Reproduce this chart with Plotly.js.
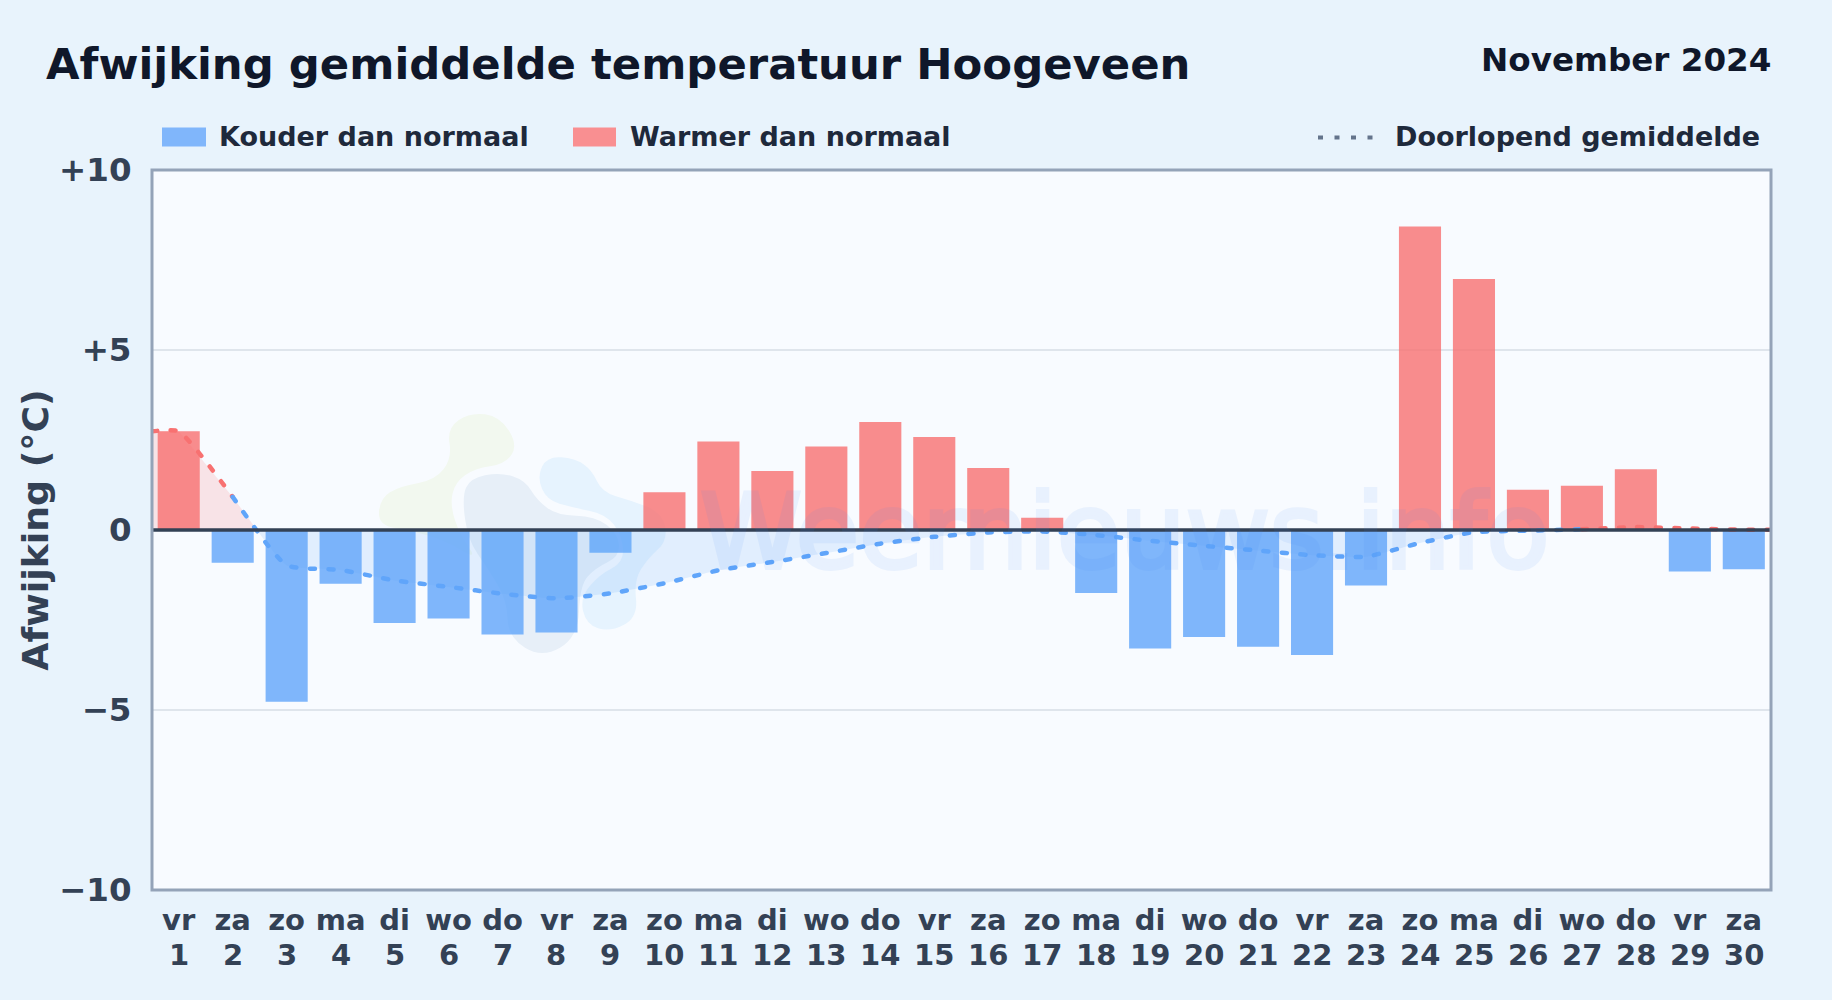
<!DOCTYPE html>
<html>
<head>
<meta charset="utf-8">
<script src="https://cdn.plot.ly/plotly-3.0.1.min.js"></script>
<style>
html,body{margin:0;padding:0;background:#e8f3fc;}
#chart{width:1832px;height:1000px;}
.scatterlayer .js-line{stroke-linecap:round;}
.annotation[data-index="0"] text{stroke:#3b82f6;stroke-width:4px;}
</style>
</head>
<body>
<div id="chart"></div>
<script>
const days = [1,2,3,4,5,6,7,8,9,10,11,12,13,14,15,16,17,18,19,20,21,22,23,24,25,26,27,28,29,30];
const weekdays = ['vr','za','zo','ma','di','wo','do','vr','za','zo','ma','di','wo','do','vr','za','zo','ma','di','wo','do','vr','za','zo','ma','di','wo','do','vr','za'];
const anomaly = [2.74,-0.91,-4.77,-1.49,-2.58,-2.46,-2.90,-2.85,-0.63,1.05,2.46,1.64,2.32,3.00,2.58,1.72,0.34,-1.75,-3.29,-2.97,-3.24,-3.47,-1.54,8.43,6.97,1.12,1.23,1.69,-1.15,-1.09];
const runningMean = [2.74,0.92,-0.98,-1.11,-1.40,-1.58,-1.77,-1.90,-1.76,-1.48,-1.12,-0.89,-0.64,-0.38,-0.19,-0.07,-0.04,-0.14,-0.30,-0.44,-0.57,-0.70,-0.74,-0.36,-0.06,-0.02,0.02,0.08,0.04,0.01];
const yTickVals = [10,5,0,-5,-10];
const yTickText = ['+10','+5','0','\u22125','\u221210'];
const legendCold = 'Kouder dan normaal';
const legendWarm = 'Warmer dan normaal';
const legendMean = 'Doorlopend gemiddelde';
const titleText = 'Afwijking gemiddelde temperatuur Hoogeveen';
const periodText = 'November 2024';
const yTitle = 'Afwijking (\u00b0C)';
const watermark = 'Weernieuws.info';

const FONT = '"DejaVu Sans", sans-serif';
const BLUE = '#60a5fa', RED = '#f87171';
const W = 1832, H = 1000;
const M = {l:152, r:61, t:169.5, b:110};
const PW = W - M.l - M.r, PH = H - M.t - M.b;
const px = x => (x - M.l) / PW;
const py = y => (H - M.b - y) / PH;

function blob(points, color) {
  const p = points.map(([x,y]) => [px(x), py(y)]);
  const n = p.length;
  const mid = (a,b) => [(a[0]+b[0])/2, (a[1]+b[1])/2];
  const s = mid(p[n-1], p[0]);
  let d = `M ${s[0]} ${s[1]}`;
  for (let i=0;i<n;i++) {
    const m = mid(p[i], p[(i+1)%n]);
    d += ` Q ${p[i][0]} ${p[i][1]} ${m[0]} ${m[1]}`;
  }
  return {type:'path', xref:'paper', yref:'paper', path:d+' Z', fillcolor:color, line:{width:0}, layer:'below'};
}
const blobGreen = [[378,525],[380,498],[400,486],[435,480],[452,458],[447,428],[470,412],[500,416],[518,445],[505,464],[475,468],[455,482],[450,505],[460,535],[478,560],[445,540],[410,530]];
const blobGrey = [[462,497],[470,478],[500,472],[525,480],[537,500],[557,515],[595,516],[618,533],[620,556],[595,568],[580,585],[578,637],[542,658],[508,637],[507,600],[487,567],[468,540]];
const blobBlue = [[537,477],[547,456],[575,458],[592,470],[602,492],[630,500],[662,512],[668,540],[648,558],[634,580],[638,617],[610,632],[586,624],[580,597],[600,574],[624,562],[622,535],[606,514],[572,507],[547,500]];

const xStart = 0.505, xEnd = 30.504;
const cross1 = 2.45, cross2 = 26.5;
const d0 = days.slice(0,2), m0 = runningMean.slice(0,2);
const dC = days.slice(2,26), mC = runningMean.slice(2,26);
const meanLine = color => ({color,width:4.5,dash:'5px,13.5px',shape:'spline',smoothing:0.5});

const data = [
  {type:'scatter', mode:'none', x:[xStart,...d0,cross1], y:[runningMean[0],...m0,0], fill:'tozeroy', fillcolor:'rgba(248,113,113,0.17)', hoverinfo:'skip', showlegend:false},
  {type:'scatter', mode:'none', x:[cross1,...dC,cross2], y:[0,...mC,0], line:{shape:'spline',smoothing:0.5}, fill:'tozeroy', fillcolor:'rgba(96,165,250,0.15)', hoverinfo:'skip', showlegend:false},
  {type:'bar', name:legendCold, x:days.filter((d,i)=>anomaly[i]<0), y:anomaly.filter(v=>v<0), width:0.78, marker:{color:BLUE,opacity:0.8,line:{width:0}}, showlegend:false},
  {type:'bar', name:legendWarm, x:days.filter((d,i)=>anomaly[i]>=0), y:anomaly.filter(v=>v>=0), width:0.78, marker:{color:RED,opacity:0.8,line:{width:0}}, showlegend:false},
  {type:'scatter', mode:'lines', x:[xStart,...days.slice(0,2)], y:[runningMean[0],...runningMean.slice(0,2)], line:meanLine(RED), hoverinfo:'skip', showlegend:false},
  {type:'scatter', mode:'lines', x:days.slice(1,27), y:runningMean.slice(1,27), line:meanLine(BLUE), hoverinfo:'skip', showlegend:false},
  {type:'scatter', mode:'lines', x:[...days.slice(26),xEnd], y:[...runningMean.slice(26),runningMean[29]], line:meanLine(RED), hoverinfo:'skip', showlegend:false}
];

const legendText = (text,x) => ({xref:'paper',yref:'paper',x:px(x),y:py(136),xanchor:'left',yanchor:'middle',text,showarrow:false,font:{family:FONT,size:27,weight:700,color:'#1e293b'}});

const annotations = [
  {xref:'paper',yref:'paper',x:px(1124),y:py(532),xanchor:'center',yanchor:'middle',text:watermark,showarrow:false,opacity:0.08,font:{family:FONT,size:103,color:'#3b82f6'}},
  {xref:'paper',yref:'paper',x:px(1773),y:py(59),xanchor:'right',yanchor:'middle',text:periodText,showarrow:false,font:{family:FONT,size:32.6,weight:700,color:'#0f172a'}},
  legendText(legendCold,217),
  legendText(legendWarm,628),
  legendText(legendMean,1393),
  ...days.map(d => ({xref:'x',yref:'paper',x:d,y:py(955.5),xanchor:'center',yanchor:'middle',text:String(d),showarrow:false,font:{family:FONT,size:29,weight:700,color:'#334155'}}))
];

const shapes = [
  blob(blobGreen,'#f2f8ef'),
  blob(blobBlue,'#e6f3fe'),
  blob(blobGrey,'#e7eff8'),
  {type:'line',xref:'paper',yref:'y',x0:0,x1:1,y0:0,y1:0,line:{color:'#334155',width:3.5},layer:'above'},
  {type:'rect',xref:'paper',yref:'paper',x0:0,x1:1,y0:0,y1:1,fillcolor:'rgba(0,0,0,0)',line:{color:'#94a3b8',width:3},layer:'above'},
  {type:'rect',xref:'paper',yref:'paper',x0:px(162),x1:px(206),y0:py(146),y1:py(127),fillcolor:'#80b6fb',line:{width:0},layer:'above'},
  {type:'rect',xref:'paper',yref:'paper',x0:px(573),x1:px(616),y0:py(146),y1:py(127),fillcolor:'#f98f91',line:{width:0},layer:'above'},
  {type:'line',xref:'paper',yref:'paper',x0:px(1318),x1:px(1374),y0:py(137),y1:py(137),line:{color:'#64748b',width:4,dash:'5px,11.5px'},layer:'above'}
];

const layout = {
  width:W, height:H,
  margin:{l:M.l,r:M.r,t:M.t,b:M.b,pad:0},
  paper_bgcolor:'#e8f3fc',
  plot_bgcolor:'#f8fbff',
  barmode:'overlay',
  showlegend:false,
  font:{family:FONT},
  title:{text:titleText,x:46/W,xref:'container',xanchor:'left',y:1-64/H,yref:'container',yanchor:'middle',pad:{t:0,b:0,l:0,r:0},font:{family:FONT,size:43.35,weight:700,color:'#0f172a'}},
  xaxis:{range:[xStart,xEnd],tickmode:'array',tickvals:days,ticktext:weekdays,tickangle:0,ticks:'',ticklabelstandoff:2,tickfont:{family:FONT,size:29,weight:700,color:'#334155'},showgrid:false,zeroline:false,showline:true,linecolor:'rgba(0,0,0,0)',linewidth:3,fixedrange:true},
  yaxis:{range:[-10,10],tickmode:'array',tickvals:yTickVals,ticktext:yTickText,ticks:'',ticklabelstandoff:11,tickfont:{family:FONT,size:32.5,weight:700,color:'#334155'},showgrid:true,gridcolor:'#dfe5ec',gridwidth:2,zeroline:false,showline:true,linecolor:'rgba(0,0,0,0)',linewidth:3,automargin:false,fixedrange:true,
    title:{text:yTitle,standoff:0,font:{family:FONT,size:36.3,weight:700,color:'#334155'}}},
  annotations, shapes
};
Plotly.newPlot('chart',data,layout,{displayModeBar:false,responsive:false,staticPlot:true});
</script>
</body>
</html>
